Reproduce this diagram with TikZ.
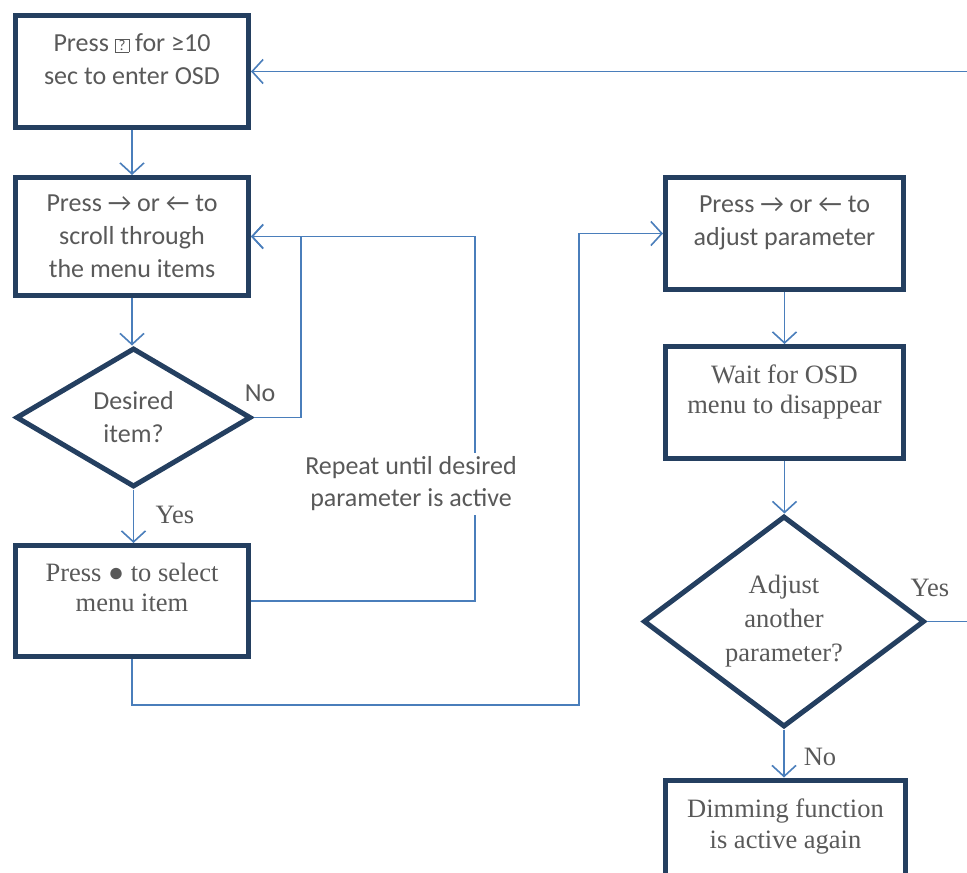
\documentclass[tikz,border=0pt]{standalone}
\usepackage{fontspec}
\setmainfont{Liberation Serif}
\newfontfamily\calfont{Carlito}
\usetikzlibrary{shapes.geometric,arrows.meta}
\definecolor{boxnavy}{HTML}{243F60}
\definecolor{linkblue}{HTML}{4A7EBB}
\definecolor{txtgrey}{HTML}{595959}
% box drawn in place of the missing button glyph
\newcommand{\keyglyph}{{\setlength{\fboxsep}{1pt}\setlength{\fboxrule}{0.7pt}\raisebox{0.5pt}{\fbox{\makebox[11pt]{\fontsize{15}{15}\selectfont ?}}}}}
\begin{document}
\begin{tikzpicture}[x=1pt,y=-1pt,
    stepbox/.style={draw=boxnavy, line width=5pt, minimum width=233, minimum height=112,
      align=center, inner sep=0pt, text=txtgrey},
    query/.style={diamond, draw=boxnavy, line width=5pt, align=center, inner sep=0pt,
      text=txtgrey},
    sansbox/.style={font=\calfont\fontsize{26}{33}\selectfont},
    serifbox/.style={font=\fontsize{26.5}{30.5}\selectfont},
    link/.style={draw=linkblue, line width=1.6pt, -{Straight Barb[length=11pt,width=24pt]}},
    tag/.style={text=txtgrey, inner sep=1pt}]
  \useasboundingbox (0,0) rectangle (967,873);

  % left column
  \node[stepbox,sansbox] (enter) at (132,71.5) {Press \keyglyph{} for ≥10\\sec to enter OSD\\[-8pt]\mbox{}};
  \node[stepbox,sansbox,minimum height=118] (scroll) at (132,236.5) {Press → or ← to\\scroll through\\the menu items};
  \node[query,sansbox,minimum width=235,minimum height=139] (desired) at (133.5,417.5) {Desired\\item?};
  \node[stepbox,serifbox,minimum height=111] (select) at (132,601) {Press ● to select\\menu item\\[-3pt]\mbox{}};

  % right column
  \node[stepbox,sansbox,minimum width=238] (adjust) at (784.5,233.5) {Press → or ← to\\adjust parameter\\[-8pt]\mbox{}};
  \node[stepbox,serifbox,minimum width=238] (wait) at (784.5,402.5) {Wait for OSD\\menu to disappear\\[-4pt]\mbox{}};
  \node[query,serifbox,minimum width=281,minimum height=211,font=\fontsize{26.5}{34}\selectfont] (another) at (784,621.5) {Adjust\\another\\parameter?};
  \node[stepbox,serifbox,minimum width=240] (dimming) at (785.5,836) {Dimming function\\is active again\\[-6pt]\mbox{}};

  % turning points
  \coordinate (noturn) at (301,236.5);
  \coordinate (repturn) at (475,236.5);
  \coordinate (crossx) at (579,705);
  \coordinate (backturn) at (985,71.5);

  \draw[link] (enter.south) -- (scroll.north);
  \draw[link] (scroll.south) -- (scroll.south |- desired.north);
  \draw[link] (desired.south) -- (desired.south |- select.north);
  \draw[link] (desired.east) -| (noturn) -- (scroll.east);
  \draw[link] (select.east) -| (repturn) -- (scroll.east);
  \draw[link] (select.south) |- (crossx) |- (adjust.west);
  \draw[link] (adjust.south) -- (wait.north);
  \draw[link] (wait.south) -- (wait.south |- another.north);
  \draw[link] (another.south) -- (another.south |- dimming.north);
  \draw[link] (another.east) -| (backturn) -- (enter.east);

  \node[fill=white,text=txtgrey,align=center,inner sep=4pt,font=\calfont\fontsize{26}{32}\selectfont] (repnote) at (411,484) {Repeat until desired\\parameter is active};

  \node[tag,sansbox] (nolabel) at (260,393) {No};
  \node[tag,serifbox] (yeslabel) at (175,515) {Yes};
  \node[tag,serifbox] (yesback) at (930,588) {Yes};
  \node[tag,serifbox] (nodone) at (820,757) {No};
\end{tikzpicture}
\end{document}
